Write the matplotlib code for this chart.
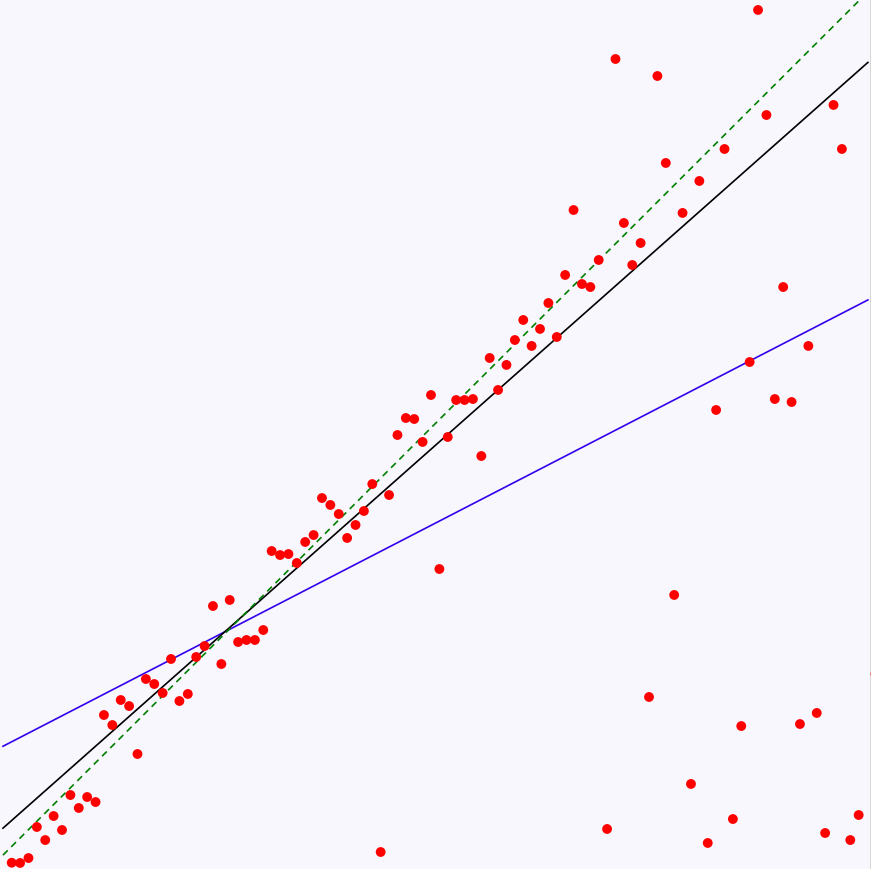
import numpy as np
import matplotlib
matplotlib.use("Agg")
import matplotlib.pyplot as plt

# sample positions (index 102 has no visible point)
x = list(range(0, 102)) + [103]
y = [0.75, 0.72, 1.31, 5.02, 3.46, 6.33, 4.66, 8.84, 7.29, 8.60,
     8.00, 18.40, 17.20, 20.19, 19.47, 13.74, 22.70, 22.10, 21.03, 25.09,
     20.07, 20.91, 25.33, 26.64, 31.42, 24.49, 32.14, 27.12, 27.36, 27.36,
     28.55, 37.99, 37.51, 37.63, 36.56, 39.07, 39.90, 44.32, 43.49, 42.41,
     39.55, 41.10, 42.77, 45.99, 2.03, 44.68, 51.85, 53.88, 53.76, 51.02,
     56.63, 35.84, 51.61, 56.03, 56.03, 56.15, 49.34, 61.05, 57.23, 60.22,
     63.20, 65.59, 62.49, 64.52, 67.62, 63.56, 70.97, 78.73, 69.89, 69.53,
     72.76, 4.78, 96.77, 77.18, 72.16, 74.79, 20.55, 94.74, 84.35, 32.74,
     78.38, 10.16, 82.20, 3.11, 54.84, 86.02, 5.97, 17.08, 60.57, 102.63,
     90.08, 56.15, 69.53, 55.79, 17.32, 62.49, 18.64, 4.30, 91.28, 86.02,
     3.46, 6.45, 23.30]

# fitted lines: (slope, intercept)
ols_fit = (0.517, 15.2)
robust_fit = (0.887, 5.8)
true_line = (1.0, 2.7)
line_range = np.array([-1.04, 102.1])

fig = plt.figure(figsize=(8.71, 8.69), dpi=100)
fig.patch.set_facecolor("#f8f7fd")
ax = fig.add_axes([0, 0, 1, 1])
ax.set_facecolor("#f8f7fd")

ax.plot(line_range, ols_fit[0] * line_range + ols_fit[1], color="#3300ee", lw=1.2)
ax.plot(line_range, robust_fit[0] * line_range + robust_fit[1], color="black", lw=1.2)
ax.plot(line_range, true_line[0] * line_range + true_line[1], color="green",
        lw=1.2, ls=(0, (4, 3)))
ax.scatter(x, y, s=50, color="#ff0000", edgecolors="none", zorder=3)

ax.set_xlim(-1.395, 102.47)
ax.set_ylim(0, 103.82)
for s in ["left", "top", "bottom"]:
    ax.spines[s].set_visible(False)
ax.spines["right"].set_color("#d8d8d8")
ax.spines["right"].set_linewidth(1.5)
ax.set_xticks([])
ax.set_yticks([])

fig.savefig("out.png", dpi=100, facecolor=fig.get_facecolor())
